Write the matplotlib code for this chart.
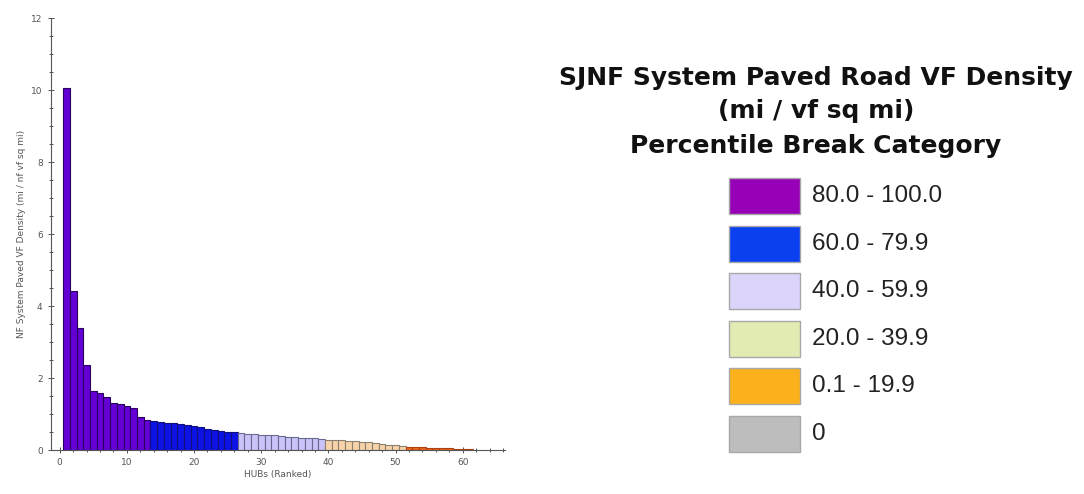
import matplotlib
matplotlib.use("Agg")
import matplotlib.pyplot as plt
from matplotlib.patches import Rectangle
from matplotlib.ticker import MultipleLocator

# ---- data ----
ranks = list(range(1, 62))
density = [10.05, 4.42, 3.38, 2.36, 1.65, 1.58, 1.48, 1.30, 1.28, 1.23, 1.18, 0.92, 0.83,
           0.80, 0.77, 0.76, 0.75, 0.73, 0.70, 0.67, 0.63, 0.59, 0.55, 0.52, 0.50, 0.49,
           0.46, 0.45, 0.44, 0.43, 0.42, 0.41, 0.39, 0.37, 0.35, 0.34, 0.33, 0.32, 0.31,
           0.29, 0.28, 0.27, 0.26, 0.25, 0.23, 0.21, 0.19, 0.17, 0.15, 0.13, 0.11,
           0.08, 0.07, 0.07, 0.06, 0.06, 0.05, 0.05, 0.04, 0.04, 0.03]
category = [0]*13 + [1]*13 + [2]*13 + [3]*12 + [4]*10

legend_labels = ["80.0 - 100.0", "60.0 - 79.9", "40.0 - 59.9", "20.0 - 39.9", "0.1 - 19.9", "0"]
legend_colors = ["#9600b6", "#0a40f0", "#dcd4fb", "#e1ebb2", "#fcb01c", "#bdbdbd"]
bar_colors = ["#6400d4", "#0c12e4", "#c9c3f7", "#f7d3aa", "#e8661c"]
bar_edges = ["#2a0060", "#10107a", "#6a6a90", "#8a8070", "#b04010"]

title_lines = ["SJNF System Paved Road VF Density", "(mi / vf sq mi)", "Percentile Break Category"]

W, H = 1084, 494
fig = plt.figure(figsize=(W/100, H/100), dpi=100)

ax = fig.add_axes([51/W, 1-450/H, (505-51)/W, (450-18)/H])
ax.bar(ranks, density, width=1.0,
       color=[bar_colors[c] for c in category],
       edgecolor=[bar_edges[c] for c in category], linewidth=0.8, zorder=2)
ax.set_xlim(-1.3, 66.3)
ax.set_ylim(0, 12)
for s in ["top", "right"]:
    ax.spines[s].set_visible(False)
for s in ["left", "bottom"]:
    ax.spines[s].set_color("#555555")
    ax.spines[s].set_linewidth(0.8)
ax.yaxis.set_major_locator(MultipleLocator(2))
ax.yaxis.set_minor_locator(MultipleLocator(0.5))
ax.xaxis.set_major_locator(MultipleLocator(10))
ax.xaxis.set_minor_locator(MultipleLocator(2))
ax.tick_params(axis="both", which="both", direction="inout", colors="#555555",
               labelcolor="#555555", labelsize=6.5, width=0.7)
ax.tick_params(axis="both", which="major", length=5)
ax.tick_params(axis="both", which="minor", length=3)
ax.set_xlabel("HUBs (Ranked)", fontsize=6.5, color="#555555", labelpad=2)
ax.set_ylabel("NF System Paved VF Density (mi / nf vf sq mi)", fontsize=6.5,
              color="#555555", labelpad=4)

# ---- legend ----
title_y = [78, 111, 146]
for line, yy in zip(title_lines, title_y):
    fig.text(816/W, 1-yy/H, line, ha="center", va="center", fontsize=18,
             fontweight="bold", family="DejaVu Sans", color="#111111")

y0 = 196
dy = 47.6
for i, (lab, col) in enumerate(zip(legend_labels, legend_colors)):
    yc = y0 + i*dy
    fig.patches.append(Rectangle((729/W, 1-(yc+18)/H), 71/W, 36/H,
                                 transform=fig.transFigure, facecolor=col,
                                 edgecolor="#a8a8a8", linewidth=1.0))
    fig.text(812/W, 1-yc/H, lab, ha="left", va="center", fontsize=17.5,
             family="Liberation Sans", color="#222222")

fig.savefig("out.png", dpi=100)
